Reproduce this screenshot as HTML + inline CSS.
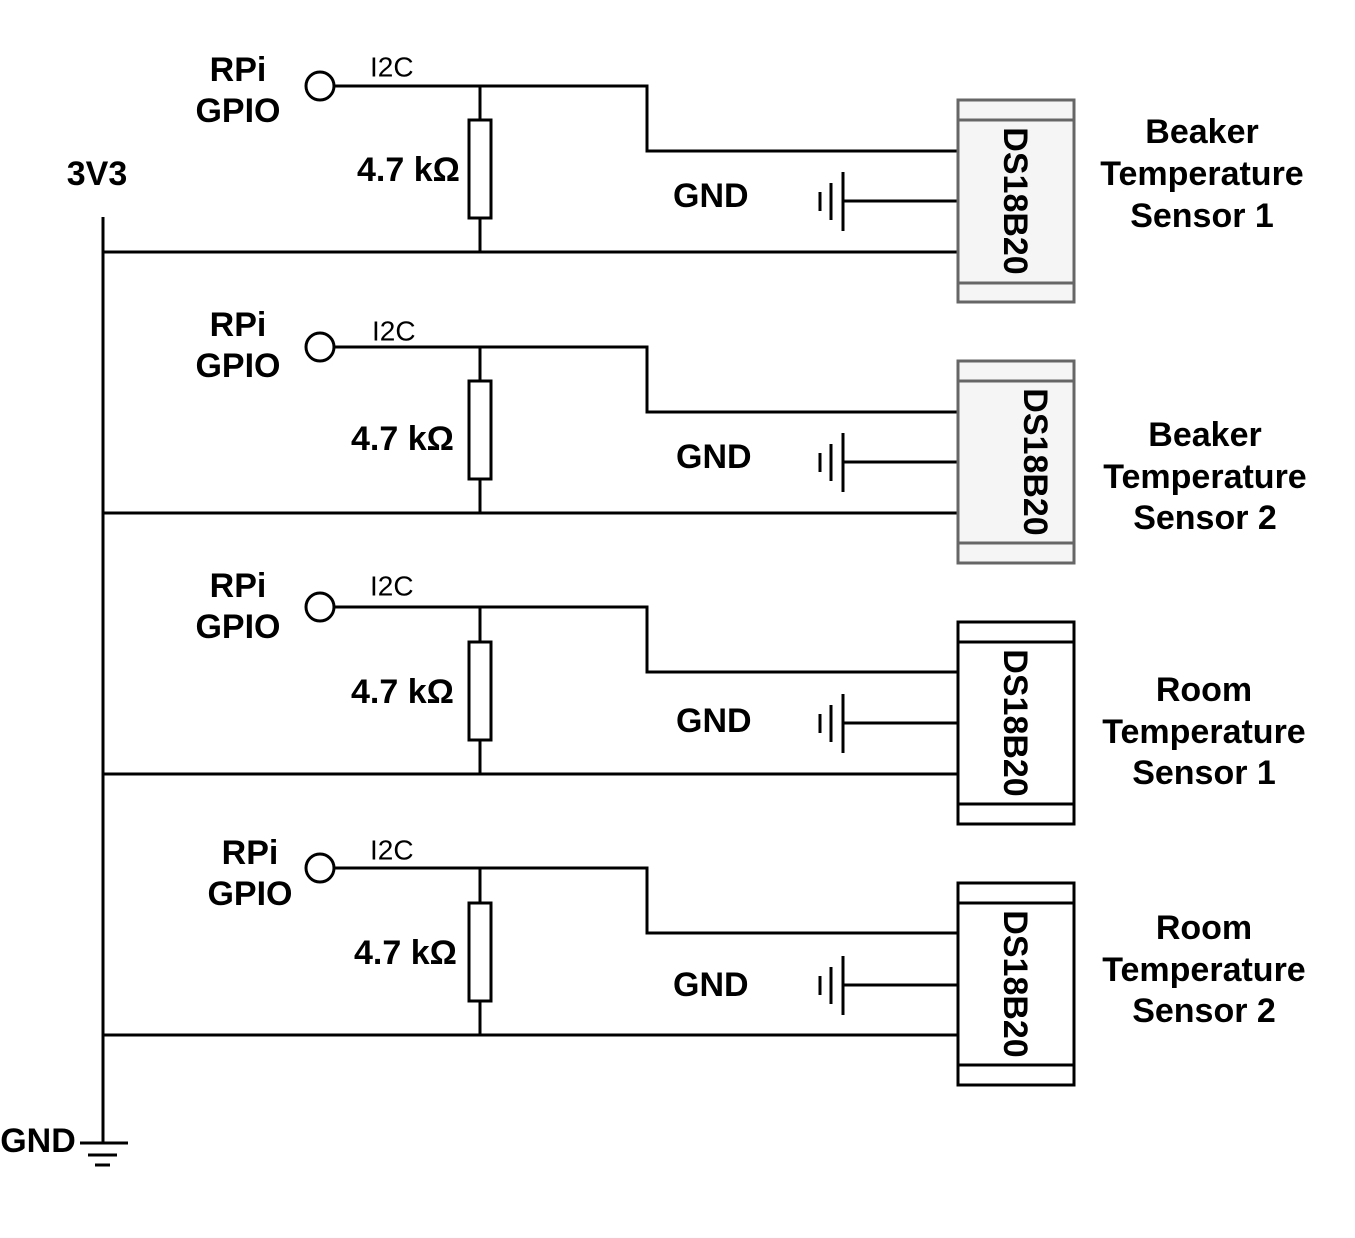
<!DOCTYPE html>
<html><head><meta charset="utf-8"><style>
html,body{margin:0;padding:0;background:#fff;}
svg{display:block;font-family:"Liberation Sans",Arial,sans-serif;}
.b{font-weight:bold;font-size:34px;}
</style></head><body>
<svg width="1355" height="1238" viewBox="0 0 1355 1238" xmlns="http://www.w3.org/2000/svg">
<g stroke="#000" stroke-width="3" fill="none">
<line x1="103" y1="217" x2="103" y2="1143"/>
<line x1="80" y1="1143" x2="128" y2="1143"/>
<line x1="88" y1="1155" x2="117" y2="1155"/>
<line x1="95" y1="1165" x2="110" y2="1165"/>
</g>
<text class="b" x="97" y="174" text-anchor="middle" dominant-baseline="central">3V3</text>
<text class="b" x="38" y="1141" text-anchor="middle" dominant-baseline="central">GND</text>

<g stroke="#000" stroke-width="3" fill="none">
<circle cx="320" cy="86" r="14" fill="#fff"/>
<polyline points="334,86 647,86 647,151 958,151"/>
<line x1="480" y1="86" x2="480" y2="120"/><rect x="469" y="120" width="22" height="98"/><line x1="480" y1="218" x2="480" y2="252"/>
<line x1="103" y1="252" x2="958" y2="252"/>
<line x1="843" y1="201" x2="958" y2="201"/><line x1="843" y1="172" x2="843" y2="231"/><line x1="831" y1="183" x2="831" y2="220"/><line x1="820" y1="192" x2="820" y2="211"/>
<circle cx="320" cy="347" r="14" fill="#fff"/>
<polyline points="334,347 647,347 647,412 958,412"/>
<line x1="480" y1="347" x2="480" y2="381"/><rect x="469" y="381" width="22" height="98"/><line x1="480" y1="479" x2="480" y2="513"/>
<line x1="103" y1="513" x2="958" y2="513"/>
<line x1="843" y1="462" x2="958" y2="462"/><line x1="843" y1="433" x2="843" y2="492"/><line x1="831" y1="444" x2="831" y2="481"/><line x1="820" y1="453" x2="820" y2="472"/>
<circle cx="320" cy="607" r="14" fill="#fff"/>
<polyline points="334,607 647,607 647,672 958,672"/>
<line x1="480" y1="607" x2="480" y2="642"/><rect x="469" y="642" width="22" height="98"/><line x1="480" y1="740" x2="480" y2="774"/>
<line x1="103" y1="774" x2="958" y2="774"/>
<line x1="843" y1="723" x2="958" y2="723"/><line x1="843" y1="694" x2="843" y2="753"/><line x1="831" y1="705" x2="831" y2="742"/><line x1="820" y1="714" x2="820" y2="733"/>
<circle cx="320" cy="868" r="14" fill="#fff"/>
<polyline points="334,868 647,868 647,933 958,933"/>
<line x1="480" y1="868" x2="480" y2="903"/><rect x="469" y="903" width="22" height="98"/><line x1="480" y1="1001" x2="480" y2="1035"/>
<line x1="103" y1="1035" x2="958" y2="1035"/>
<line x1="843" y1="985" x2="958" y2="985"/><line x1="843" y1="956" x2="843" y2="1015"/><line x1="831" y1="967" x2="831" y2="1004"/><line x1="820" y1="976" x2="820" y2="995"/>
</g>

<g stroke-width="3">
<rect x="958" y="100" width="116" height="202" fill="#f5f5f5" stroke="#666"/>
<line x1="958" y1="120" x2="1074" y2="120" stroke="#666"/><line x1="958" y1="283" x2="1074" y2="283" stroke="#666"/>
<rect x="958" y="361" width="116" height="202" fill="#f5f5f5" stroke="#666"/>
<line x1="958" y1="381" x2="1074" y2="381" stroke="#666"/><line x1="958" y1="543" x2="1074" y2="543" stroke="#666"/>
<rect x="958" y="622" width="116" height="202" fill="#fff" stroke="#000"/>
<line x1="958" y1="642" x2="1074" y2="642" stroke="#000"/><line x1="958" y1="804" x2="1074" y2="804" stroke="#000"/>
<rect x="958" y="883" width="116" height="202" fill="#fff" stroke="#000"/>
<line x1="958" y1="903" x2="1074" y2="903" stroke="#000"/><line x1="958" y1="1065" x2="1074" y2="1065" stroke="#000"/>
</g>
<g class="b" text-anchor="middle" dominant-baseline="central">
<text transform="translate(1015,201) rotate(90)">DS18B20</text>
<text transform="translate(1035,462) rotate(90)">DS18B20</text>
<text transform="translate(1015,723) rotate(90)">DS18B20</text>
<text transform="translate(1015,984) rotate(90)">DS18B20</text>
</g>

<g class="b" text-anchor="middle" dominant-baseline="central">
<text x="238" y="70">RPi</text><text x="238" y="111">GPIO</text>
<text x="238" y="325">RPi</text><text x="238" y="366">GPIO</text>
<text x="238" y="586">RPi</text><text x="238" y="627">GPIO</text>
<text x="250" y="853">RPi</text><text x="250" y="894">GPIO</text>
<text x="1202" y="132">Beaker</text><text x="1202" y="174">Temperature</text><text x="1202" y="216">Sensor 1</text>
<text x="1205" y="435">Beaker</text><text x="1205" y="477">Temperature</text><text x="1205" y="518">Sensor 2</text>
<text x="1204" y="690">Room</text><text x="1204" y="732">Temperature</text><text x="1204" y="773">Sensor 1</text>
<text x="1204" y="928">Room</text><text x="1204" y="970">Temperature</text><text x="1204" y="1011">Sensor 2</text>
</g>
<g class="b" dominant-baseline="central">
<text x="357" y="170">4.7 kΩ</text><text x="673" y="196">GND</text>
<text x="351" y="439">4.7 kΩ</text><text x="676" y="457">GND</text>
<text x="351" y="692">4.7 kΩ</text><text x="676" y="721">GND</text>
<text x="354" y="953">4.7 kΩ</text><text x="673" y="985">GND</text>
</g>
<g font-size="28" dominant-baseline="central">
<text x="370" y="67">I2C</text>
<text x="372" y="331">I2C</text>
<text x="370" y="586">I2C</text>
<text x="370" y="850">I2C</text>
</g>
</svg>
</body></html>
